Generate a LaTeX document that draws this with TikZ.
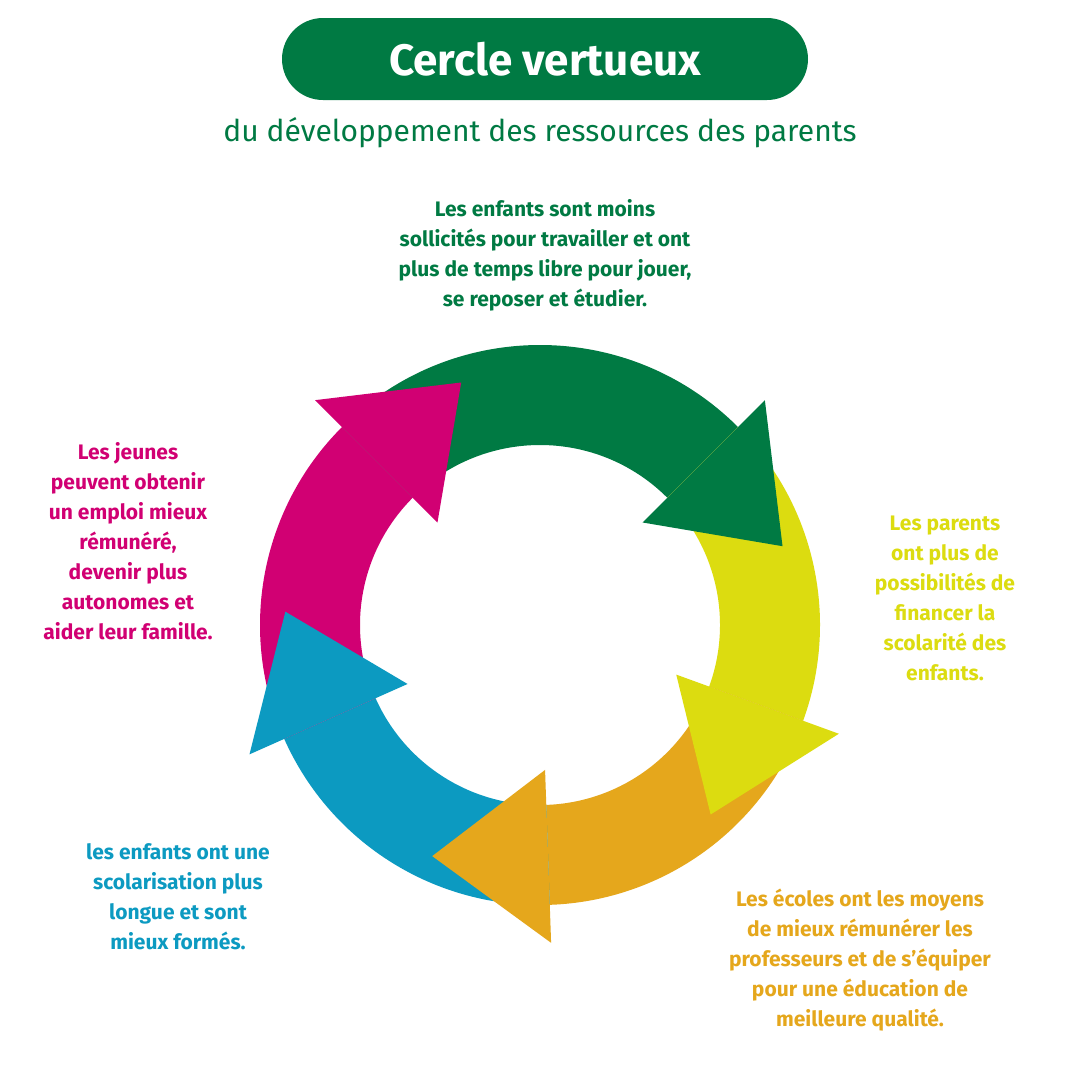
\documentclass[tikz,border=0pt]{standalone}
\usepackage{fontspec}
\setmainfont{Fira Sans}
\definecolor{cgreen}{HTML}{007A43}
\definecolor{cmag}{HTML}{D10073}
\definecolor{cyel}{HTML}{DCDC10}
\definecolor{cora}{HTML}{E5A71C}
\definecolor{cblue}{HTML}{0C9AC1}
\begin{document}
\begin{tikzpicture}[x=1pt,y=-1pt,
  lbl/.style={align=center,font=\fontsize{21}{30}\selectfont\bfseries}]
\useasboundingbox[fill=white] (0,0) rectangle (1080,1080);
\node[fill=cgreen,rounded corners=41pt,minimum width=526pt,minimum height=82pt,text=white,font=\fontsize{44}{50}\selectfont\bfseries] (title) at (545,59) {Cercle vertueux};
\node[text=cgreen,font=\fontsize{30}{36}\selectfont] (sub) at (540,133) {du développement des ressources des parents};
\begin{scope}[y=1pt,shift={(540,-625)}]
\foreach \c/\s/\e in {cgreen/135/45,cyel/45/-20,cora/-20/-88,cblue/-88/-156,cmag/-156/-225}{
  \fill[\c] (\s:280) arc[start angle=\s,end angle=\e,radius=280] -- (\e:180) arc[start angle=\e,end angle=\s,radius=180] -- cycle;
}
\foreach \c/\e/\t in {cgreen/45/18,cyel/-20/-48,cora/-88/-115,cblue/-156/-183,cmag/-225/-252}{
  \fill[\c] (\e:318) -- (\t:255) -- (\e:145) -- cycle;
}
\end{scope}
\node[lbl,text=cgreen] (tg) at (545,255) {Les enfants sont moins\\sollicités pour travailler et ont\\plus de temps libre pour jouer,\\se reposer et étudier.};
\node[lbl,text=cyel] (ty) at (945,598) {Les parents\\ont plus de\\possibilités de\\financer la\\scolarité des\\enfants.};
\node[lbl,text=cora] (to) at (860,960) {Les écoles ont les moyens\\de mieux rémunérer les\\professeurs et de s’équiper\\pour une éducation de\\meilleure qualité.};
\node[lbl,text=cblue] (tb) at (178,897) {les enfants ont une\\scolarisation plus\\longue et sont\\mieux formés.};
\node[lbl,text=cmag] (tm) at (128,541) {Les jeunes\\peuvent obtenir\\un emploi mieux\\rémunéré,\\devenir plus\\autonomes et\\aider leur famille.};
\end{tikzpicture}
\end{document}
